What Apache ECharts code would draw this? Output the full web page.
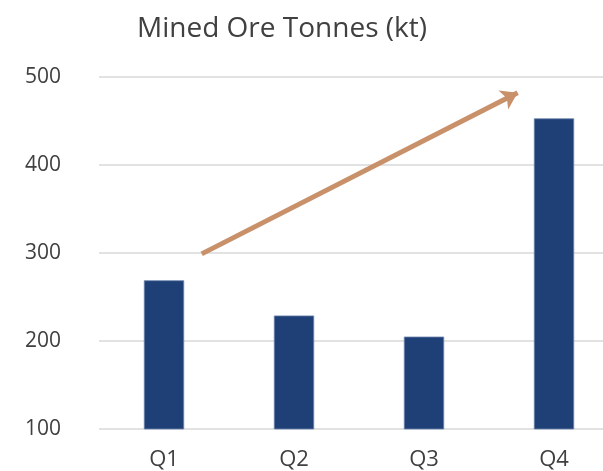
<!DOCTYPE html>
<html>
<head>
<meta charset="utf-8">
<script src="https://cdn.jsdelivr.net/npm/echarts@6/dist/echarts.min.js"></script>
<style>
  html, body { margin: 0; padding: 0; background: #fff; overflow: hidden; }
  /* plot area runs past the right edge in the original, so the canvas is a bit wider than the window */
  #chart { width: 619px; height: 471px; }
</style>
</head>
<body>
<div id="chart"></div>
<script>
const quarters = ['Q1', 'Q2', 'Q3', 'Q4']
const tonnes = [269, 229, 205, 453]
// trend arrow ends, in data units (x = category position, y = kt)
const arrowFrom = [0.29, 299]
const arrowTo = [2.72, 482]

const chart = echarts.init(document.getElementById('chart'))

const option = {
  backgroundColor: '#fff',
  animation: false,
  title: {
    text: 'Mined Ore Tonnes (kt)',
    left: 277,
    textAlign: 'center',
    top: 10,
    textStyle: {
      fontFamily: 'Open Sans',
      fontWeight: 'normal',
      fontSize: 28,
      color: '#404040'
    }
  },
  grid: {
    left: 99,
    right: 0,
    top: 77,
    bottom: 41
  },
  xAxis: [
    {
      type: 'category',
      data: quarters,
      axisLine: { show: false },
      axisTick: { show: false },
      axisLabel: {
        color: '#404040',
        fontSize: 22,
        fontFamily: 'Open Sans',
        margin: 20
      }
    },
    {
      type: 'value',
      min: -0.5,
      max: 3.5,
      show: false
    }
  ],
  yAxis: {
    type: 'value',
    min: 100,
    max: 500,
    interval: 100,
    axisLine: { show: false },
    axisTick: { show: false },
    axisLabel: {
      color: '#404040',
      fontSize: 21,
      fontFamily: 'Open Sans',
      margin: 38
    },
    splitLine: {
      lineStyle: { color: '#d9d9d9', width: 1.5 }
    }
  },
  series: [
    {
      type: 'bar',
      data: tonnes,
      barWidth: '31%',
      itemStyle: {
        color: '#1f3f77',
        borderColor: '#6f86ad',
        borderWidth: 0.8
      }
    },
    {
      type: 'lines',
      coordinateSystem: 'cartesian2d',
      xAxisIndex: 1,
      yAxisIndex: 0,
      symbol: ['none', 'arrow'],
      symbolSize: 16,
      lineStyle: {
        color: '#c9916a',
        width: 5,
        opacity: 1
      },
      data: [{ coords: [arrowFrom, arrowTo] }]
    }
  ]
}

chart.setOption(option)
</script>
</body>
</html>
